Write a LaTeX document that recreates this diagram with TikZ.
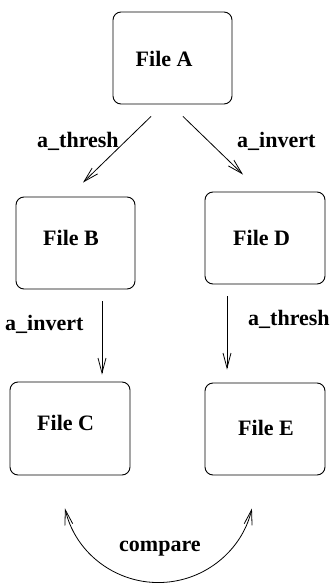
\documentclass[tikz,border=0pt]{standalone}
\usepackage{fontspec}
\setmainfont{Liberation Serif}
\usetikzlibrary{arrows.meta,calc}
\begin{document}
\begin{tikzpicture}[x=1pt,y=-1pt,
  filebox/.style={draw,rounded corners=8pt,line width=0.9pt,inner sep=0pt},
  lbl/.style={anchor=base west,inner sep=0pt,font=\fontsize{22}{22}\selectfont\bfseries},
  conn/.style={line width=0.8pt,-{Straight Barb[length=15pt,width=8pt,line width=0.8pt]}},
  conn2/.style={line width=0.8pt,{Straight Barb[length=15pt,width=8pt,line width=0.8pt]}-{Straight Barb[length=15pt,width=8pt,line width=0.8pt]}}]
\useasboundingbox (0,0) rectangle (330,583);
% boxes
\node[filebox,minimum width=119pt,minimum height=92pt] (A) at (172.5,58) {};
\node[filebox,minimum width=119pt,minimum height=92pt] (B) at (75.5,243) {};
\node[filebox,minimum width=120pt,minimum height=92pt] (D) at (265,238) {};
\node[filebox,minimum width=120pt,minimum height=93pt] (C) at (70,428.5) {};
\node[filebox,minimum width=120pt,minimum height=92pt] (E) at (265,429) {};
% box texts
\node[lbl] (At) at (135.5,66.7) {File A};
\node[lbl] (Bt) at (43,245) {File B};
\node[lbl] (Dt) at (233,245.7) {File D};
\node[lbl] (Ct) at (37,430.7) {File C};
\node[lbl] (Et) at (238,435.7) {File E};
% connectors
\draw[conn] ($(A.south)+(-21.5,12)$) -- ($(B.north)+(7.5,-14)$);
\draw[conn] ($(A.south)+(10.5,12)$) -- ($(D.north)+(-22,-17)$);
\draw[conn] ($(B.south)+(26.5,12)$) -- ($(C.north)+(32,-7)$);
\draw[conn] ($(D.south)+(-38,12)$) -- ($(E.north)+(-38,-13)$);
\draw[conn2] ($(C.south)+(-5,33)$) arc[start angle=166.8,end angle=13.2,radius=96];
% connector labels
\node[lbl] (l1) at (37,147.3) {a\_thresh};
\node[lbl] (l2) at (237,147.3) {a\_invert};
\node[lbl] (l3) at (5,330.7) {a\_invert};
\node[lbl] (l4) at (248,325) {a\_thresh};
\node[lbl] (l5) at (119,551.7) {compare};
\end{tikzpicture}
\end{document}
